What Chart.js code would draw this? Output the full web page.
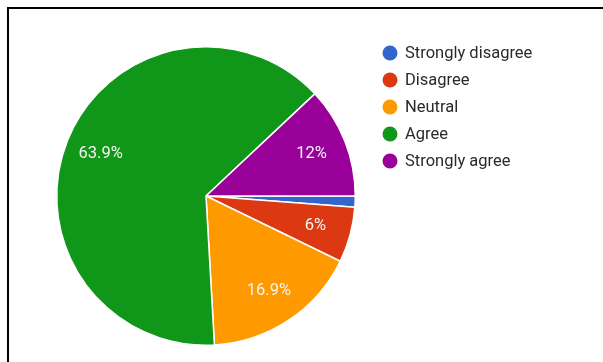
<!DOCTYPE html>
<html>
<head>
<meta charset="utf-8">
<script src="https://cdn.jsdelivr.net/npm/chart.js@4/dist/chart.umd.min.js"></script>
<style>
  html, body { margin: 0; padding: 0; background: #fff; }
  #frame {
    position: absolute; left: 7px; top: 7px;
    width: 596px; height: 355px;
    border-top: 2px solid #000; border-left: 2px solid #000;
  }
  #frame canvas { display: block; }
</style>
</head>
<body>
<div id="frame"><canvas id="pie" width="594" height="353"></canvas></div>
<script>
const categories = ['Strongly disagree', 'Disagree', 'Neutral', 'Agree', 'Strongly agree'];
const percents = [1.2, 6, 16.9, 63.9, 12];
const colors = ['#3366cc', '#dc3912', '#ff9900', '#109618', '#990099'];

// slice labels, placed inside each arc like the Google Forms chart
const sliceLabels = {
  id: 'sliceLabels',
  afterDatasetsDraw(chart) {
    const ctx = chart.ctx;
    const meta = chart.getDatasetMeta(0);
    ctx.save();
    ctx.font = '16.5px Roboto';
    ctx.fillStyle = '#f4f4f4';
    ctx.textAlign = 'center';
    ctx.textBaseline = 'middle';
    meta.data.forEach((arc, i) => {
      const v = percents[i];
      if (v < 5) return;
      const p = arc.getProps(['x', 'y', 'startAngle', 'endAngle', 'outerRadius'], true);
      const mid = (p.startAngle + p.endAngle) / 2;
      const r = p.outerRadius * 0.76;
      ctx.fillText(v + '%', p.x + Math.cos(mid) * r, p.y + Math.sin(mid) * r);
    });
    ctx.restore();
  }
};

// legend on the right, one dot + name per row
const dotLegend = {
  id: 'dotLegend',
  afterDraw(chart) {
    const ctx = chart.ctx;
    const x0 = 381, y0 = 44, step = 27;
    ctx.save();
    ctx.font = '16.5px Roboto';
    ctx.textBaseline = 'middle';
    chart.data.labels.forEach((name, i) => {
      const y = y0 + i * step;
      ctx.beginPath();
      ctx.arc(x0, y, 7.5, 0, Math.PI * 2);
      ctx.fillStyle = chart.data.datasets[0].backgroundColor[i];
      ctx.fill();
      ctx.fillStyle = '#2a2a2a';
      ctx.fillText(name, x0 + 15, y + 1);
    });
    ctx.restore();
  }
};

new Chart(document.getElementById('pie'), {
  type: 'pie',
  data: {
    labels: categories,
    datasets: [{
      data: percents,
      backgroundColor: colors,
      borderColor: '#ffffff',
      borderWidth: 1.5,
    }],
  },
  options: {
    responsive: false,
    animation: false,
    rotation: 90,
    layout: { padding: { left: 47, right: 247, top: 37, bottom: 16 } },
    plugins: {
      legend: { display: false },
      tooltip: { enabled: false },
    },
  },
  plugins: [sliceLabels, dotLegend],
});
</script>
</body>
</html>
